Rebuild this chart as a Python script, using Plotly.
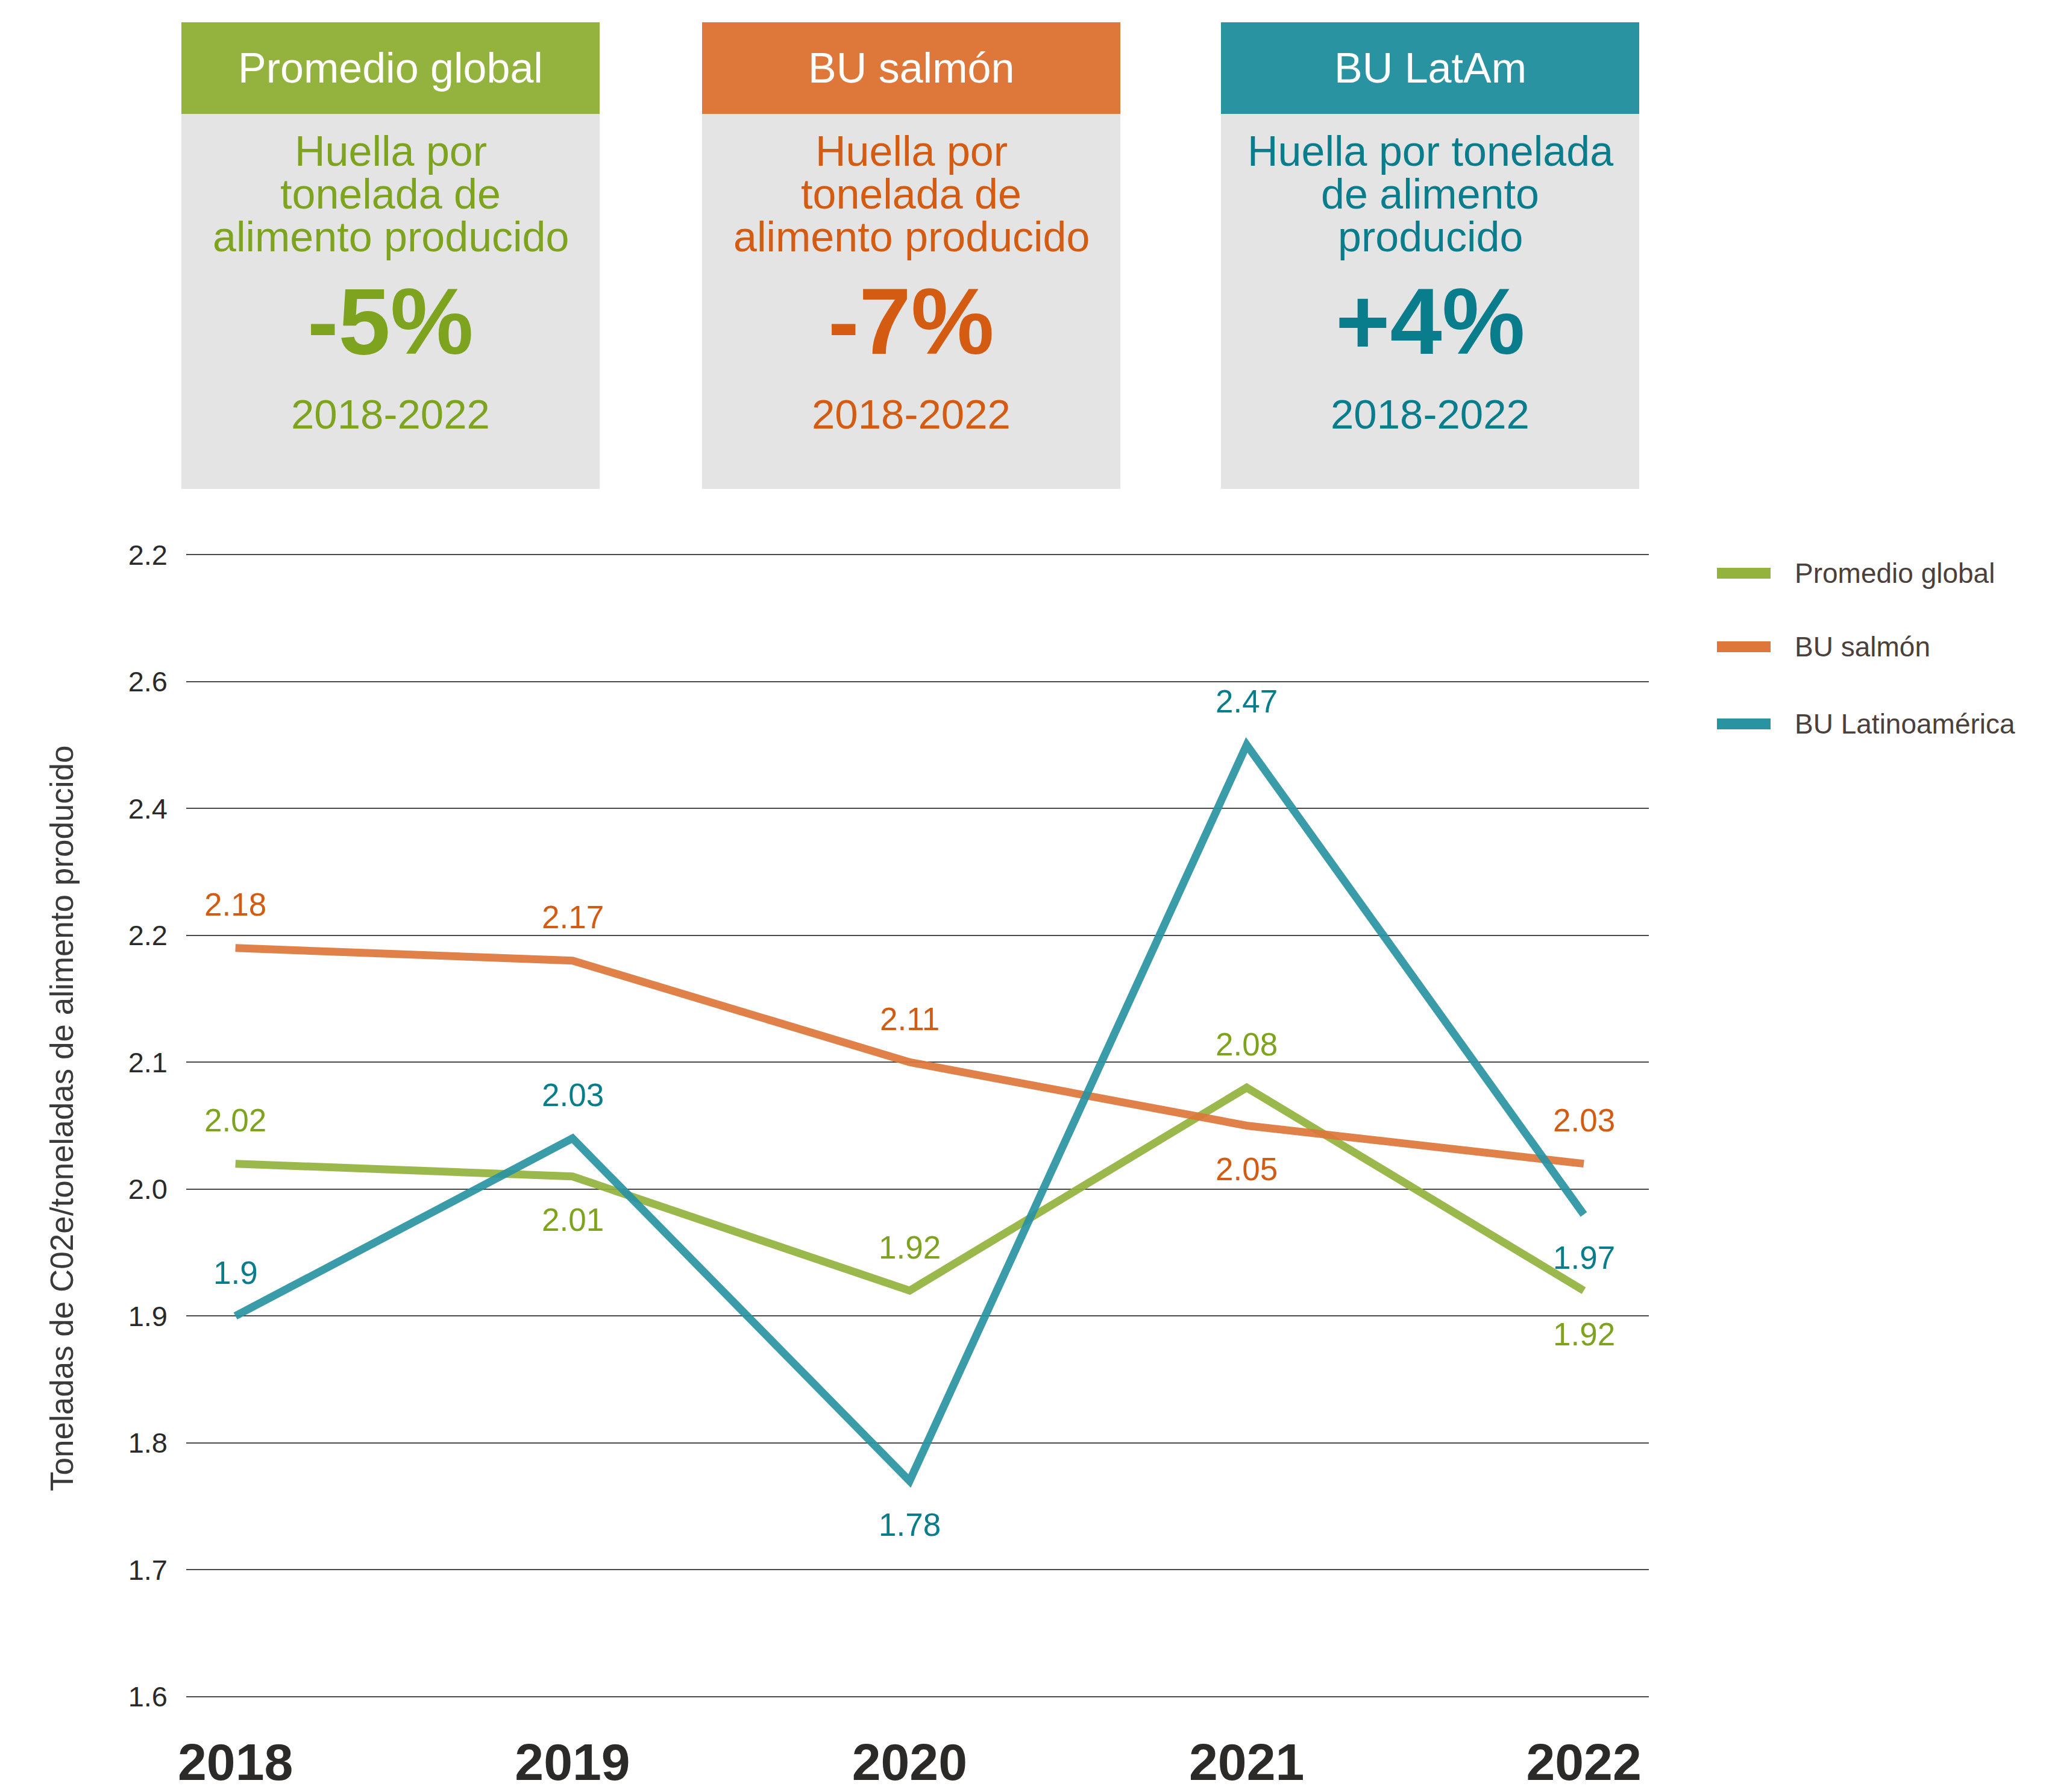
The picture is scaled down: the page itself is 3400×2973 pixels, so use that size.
import plotly.graph_objects as go

YEARS = ["2018", "2019", "2020", "2021", "2022"]

# heights of the line vertices as they sit against the gridlines
GLOBAL_AVG = [2.02, 2.01, 1.92, 2.08, 1.92]
SALMON = [2.19, 2.18, 2.10, 2.05, 2.02]
LATAM = [1.90, 2.04, 1.77, 2.35, 1.98]

# values printed next to each vertex
GLOBAL_LABELS = ["2.02", "2.01", "1.92", "2.08", "1.92"]
SALMON_LABELS = ["2.18", "2.17", "2.11", "2.05", "2.03"]
LATAM_LABELS = ["1.9", "2.03", "1.78", "2.47", "1.97"]

# the axis labels as printed (the top ones are out of order in the original)
Y_TICKS = [1.6, 1.7, 1.8, 1.9, 2.0, 2.1, 2.2, 2.3, 2.4, 2.5]
Y_TICK_TEXT = ["1.6", "1.7", "1.8", "1.9", "2.0", "2.1", "2.2", "2.4", "2.6", "2.2"]

SERIES_NAMES = ["Promedio global", "BU salmón", "BU Latinoamérica"]

BOX_TITLES = ["Promedio global", "BU salmón", "BU LatAm"]
BOX_LINES = [
    ["Huella por", "tonelada de", "alimento producido"],
    ["Huella por", "tonelada de", "alimento producido"],
    ["Huella por tonelada", "de alimento", "producido"],
]
BOX_CHANGE = ["-5%", "-7%", "+4%"]
BOX_PERIOD = "2018-2022"

LINE_COLORS = ["#93b23e", "#dd773a", "#2a93a2"]
TEXT_COLORS = ["#7ea31f", "#d35b12", "#0a7d8c"]
BOX_GRAY = "#e4e4e4"
FONT = "Liberation Sans, Arial, Helvetica, sans-serif"

# which side of the line each value label sits on (1 above, -1 below)
GLOBAL_SIDE = [1, -1, 1, 1, -1]
SALMON_SIDE = [1, 1, 1, -1, 1]
LATAM_SIDE = [1, 1, -1, 1, -1]

W, H = 3400, 2973
L, R, T, B = 309, 664, 919, 157
PW, PH = W - L - R, H - T - B


def px(x):
    return (x - L) / PW


def py(y):
    return (H - B - y) / PH


fig = go.Figure()

series = [
    (GLOBAL_AVG, GLOBAL_LABELS, GLOBAL_SIDE),
    (SALMON, SALMON_LABELS, SALMON_SIDE),
    (LATAM, LATAM_LABELS, LATAM_SIDE),
]

annotations = []
shapes = []

for i, (values, labels, sides) in enumerate(series):
    fig.add_scatter(
        x=YEARS,
        y=values,
        mode="lines",
        name=SERIES_NAMES[i],
        line={"color": LINE_COLORS[i], "width": 13},
        opacity=0.92,
        hoverinfo="skip",
        showlegend=False,
    )
    # category axis: annotations take the category index
    for j, (y, lab, side) in enumerate(zip(values, labels, sides)):
        annotations.append(
            dict(
                x=j,
                y=y,
                xref="x",
                yref="y",
                text=lab,
                showarrow=False,
                yshift=72 * side,
                font={"size": 53, "color": TEXT_COLORS[i], "family": FONT},
            )
        )

# summary boxes across the top
box_left = [301, 1165, 2026]
box_w = 694
for i, x0 in enumerate(box_left):
    cx = px(x0 + box_w / 2)
    shapes.append(
        dict(type="rect", xref="paper", yref="paper",
             x0=px(x0), x1=px(x0 + box_w), y0=py(189), y1=py(37),
             fillcolor=LINE_COLORS[i], line={"width": 0}, layer="below")
    )
    shapes.append(
        dict(type="rect", xref="paper", yref="paper",
             x0=px(x0), x1=px(x0 + box_w), y0=py(811), y1=py(189),
             fillcolor=BOX_GRAY, line={"width": 0}, layer="below")
    )
    annotations.append(
        dict(x=cx, y=py(113), xref="paper", yref="paper", text=BOX_TITLES[i],
             showarrow=False, xanchor="center", yanchor="middle",
             font={"size": 70, "color": "white", "family": FONT})
    )
    for j, line in enumerate(BOX_LINES[i]):
        annotations.append(
            dict(x=cx, y=py(251 + 71 * j), xref="paper", yref="paper", text=line,
                 showarrow=False, xanchor="center", yanchor="middle",
                 font={"size": 70, "color": TEXT_COLORS[i], "family": FONT})
        )
    annotations.append(
        dict(x=cx, y=py(533), xref="paper", yref="paper", text=BOX_CHANGE[i],
             showarrow=False, xanchor="center", yanchor="middle",
             font={"size": 155, "color": TEXT_COLORS[i], "family": FONT,
                   "weight": 900})
    )
    annotations.append(
        dict(x=cx, y=py(687), xref="paper", yref="paper", text=BOX_PERIOD,
             showarrow=False, xanchor="center", yanchor="middle",
             font={"size": 69, "color": TEXT_COLORS[i], "family": FONT})
    )

# legend drawn by hand so the swatches can be long and thick
legend_y = [951, 1073, 1201]
for i, name in enumerate(SERIES_NAMES):
    shapes.append(
        dict(type="line", xref="paper", yref="paper",
             x0=px(2849), x1=px(2938), y0=py(legend_y[i]), y1=py(legend_y[i]),
             line={"color": LINE_COLORS[i], "width": 18})
    )
    annotations.append(
        dict(x=px(2976), y=py(legend_y[i]), xref="paper", yref="paper", text=name,
             showarrow=False, xanchor="left", yanchor="middle",
             font={"size": 46, "color": "#4b403b", "family": FONT})
    )

annotations.append(
    dict(x=px(102), y=py(1855), xref="paper", yref="paper",
         text="Toneladas de C02e/toneladas de alimento producido",
         textangle=-90, showarrow=False, xanchor="center", yanchor="middle",
         font={"size": 53, "color": "#3a3a3a", "family": FONT})
)

fig.update_layout(
    width=W,
    height=H,
    autosize=False,
    margin={"l": L, "r": R, "t": T, "b": B, "pad": 0},
    paper_bgcolor="white",
    plot_bgcolor="white",
    showlegend=False,
    shapes=shapes,
    annotations=annotations,
    font={"family": FONT},
)

fig.update_xaxes(
    type="category",
    range=[-0.146, 4.193],
    showgrid=False,
    zeroline=False,
    showline=False,
    ticks="",
    automargin=False,
    ticklabelstandoff=50,
    tickfont={"size": 86, "color": "#2b2a28", "family": FONT, "weight": 900},
)

fig.update_yaxes(
    range=[1.5995, 2.5005],
    tickvals=Y_TICKS,
    ticktext=Y_TICK_TEXT,
    showgrid=True,
    gridcolor="#4a4a4a",
    gridwidth=2,
    zeroline=False,
    showline=False,
    ticks="",
    automargin=False,
    ticklabelstandoff=30,
    tickfont={"size": 47, "color": "#2a2a2a", "family": FONT},
)

fig.write_html(
    "out.html",
    config={"displayModeBar": False},
    post_script="document.body.style.margin='0px';",
)
